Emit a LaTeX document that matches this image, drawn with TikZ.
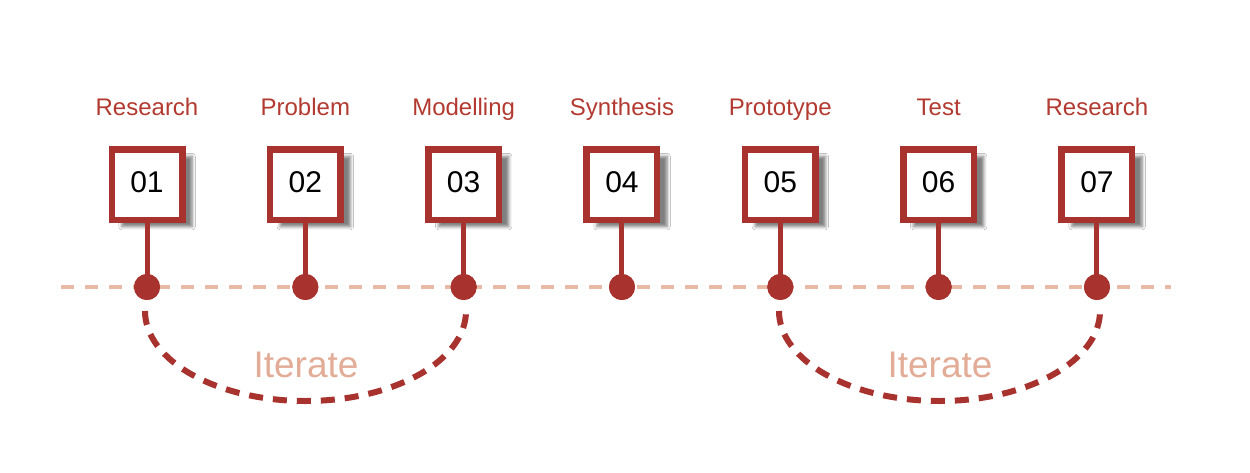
\documentclass[tikz,border=0pt]{standalone}
\usepackage{fontspec}
\setmainfont{Liberation Sans}
\usetikzlibrary{shadows.blur}
\definecolor{dred}{RGB}{168,50,45}
\definecolor{lred}{RGB}{178,58,48}
\definecolor{salmon}{RGB}{232,186,166}
\definecolor{itc}{RGB}{226,172,150}
\begin{document}
\begin{tikzpicture}[x=1pt,y=-1pt,
  stepbox/.style={draw=dred,line width=6.5pt,fill=white,minimum size=70.5pt,inner sep=0pt,
    blur shadow={shadow xshift=10pt,shadow yshift=-7pt,shadow blur radius=3pt,shadow opacity=50}},
  numtxt/.style={anchor=base,font=\fontsize{30}{32}\selectfont,text=black,inner sep=0pt},
  lbl/.style={anchor=base,font=\fontsize{24}{26}\selectfont,text=lred,inner sep=0pt},
  stem/.style={draw=dred,line width=5pt},
  dotc/.style={circle,fill=dred,minimum size=26pt,inner sep=0pt},
  baseline/.style={draw=salmon,line width=4.5pt,dash pattern=on 13pt off 11pt},
  iterarc/.style={draw=dred,line width=6pt,dash pattern=on 14pt off 10pt},
  itlbl/.style={anchor=base,font=\fontsize{37}{40}\selectfont,text=itc,inner sep=0pt}]
\useasboundingbox (0,0) rectangle (1250,472);
\fill[white] (0,0) rectangle (1250,472);
\coordinate (L) at (61,287);
\coordinate (R) at (1171,287);
\draw[baseline] (L) -- (R);
\foreach \i/\lab in {1/Research,2/Problem,3/Modelling,4/Synthesis,5/Prototype,6/Test,7/Research}{
  \pgfmathsetmacro{\xx}{147+158.33*(\i-1)}
  \node[stepbox] (b\i) at (\xx,184.5) {};
  \node[numtxt] (n\i) at (\xx,192) {0\i};
  \node[lbl] (t\i) at (\xx,115) {\lab};
  \node[dotc] (d\i) at (\xx,287) {};
  \draw[stem] (b\i.south) -- (d\i.center);
  \node[dotc] at (d\i) {};
}
\coordinate (a1) at (145,311);
\coordinate (a2) at (779,311);
\draw[iterarc] (a1) arc[start angle=180,end angle=360,x radius=160.5,y radius=-90];
\draw[iterarc] (a2) arc[start angle=180,end angle=360,x radius=160.5,y radius=-90];
\node[itlbl] (it1) at (306,377) {Iterate};
\node[itlbl] (it2) at (940,377) {Iterate};
\end{tikzpicture}
\end{document}
